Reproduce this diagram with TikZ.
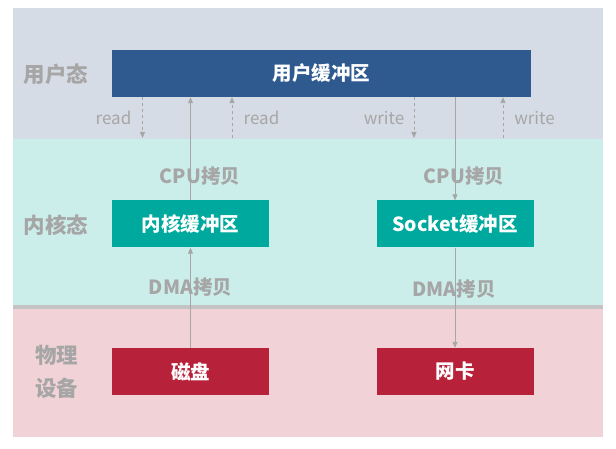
\documentclass[tikz,border=0pt]{standalone}
\usepackage{fontspec}
\setmainfont{Noto Sans CJK SC}
\usetikzlibrary{arrows.meta}
\definecolor{bandU}{HTML}{D6DCE5}
\definecolor{bandK}{HTML}{CCEEEB}
\definecolor{bandP}{HTML}{F1D3D7}
\definecolor{boxU}{HTML}{2F5A8F}
\definecolor{boxK}{HTML}{00A99D}
\definecolor{boxP}{HTML}{B7213A}
\definecolor{txtG}{HTML}{A6A6A6}
\definecolor{sepG}{HTML}{C3C3C3}
\tikzset{
  buf/.style={draw=none,minimum height=47pt,inner sep=0pt,text=white,font=\bfseries\fontsize{19.5}{23}\selectfont},
  grp/.style={text=txtG,font=\bfseries\fontsize{21.5}{33}\selectfont,inner sep=0pt,align=center},
  cpy/.style={text=txtG,font=\bfseries\fontsize{19.5}{23}\selectfont,inner sep=0pt},
  rw/.style={text=txtG,font=\fontsize{17}{20}\selectfont,inner sep=0pt},
  conn/.style={draw=txtG,line width=0.9pt,-{Triangle[length=6pt,width=5pt]}},
  dconn/.style={conn,dash pattern=on 3pt off 3pt}
}
\begin{document}
\begin{tikzpicture}[x=1pt,y=-1pt]
\useasboundingbox (0,0) rectangle (616,449);
\fill[white] (0,0) rectangle (616,449);
% bands
\fill[bandU] (13,8) rectangle (603,139);
\fill[bandK] (13,139) rectangle (603,306);
\fill[bandP] (13,308) rectangle (603,437);
\fill[sepG] (13,305) rectangle (603,308.5);
% group labels
\node[grp] (gu) at (56,74) {用户态};
\node[grp] (gk) at (56,225) {内核态};
\node[grp] (gp) at (56.5,371.5) {物理\\设备};
% boxes
\node[buf,fill=boxU,minimum width=419pt] (ub) at (321.5,73.5) {用户缓冲区};
\node[buf,fill=boxK,minimum width=157pt] (kb) at (190.5,224) {内核缓冲区};
\node[buf,fill=boxK,minimum width=157pt] (sb) at (455,224) {Socket缓冲区};
\node[buf,fill=boxP,minimum width=157pt] (dk) at (190.5,371.5) {磁盘};
\node[buf,fill=boxP,minimum width=157pt] (nc) at (455,371.5) {网卡};
% free ends
\coordinate (r1) at (142.5,138);
\coordinate (r2) at (232,138);
\coordinate (w1) at (414,138);
\coordinate (w2) at (503,138);
% connectors
\draw[dconn] (ub.south -| r1) -- (r1);
\draw[dconn] (r2) -- (ub.south -| r2);
\draw[dconn] (ub.south -| w1) -- (w1);
\draw[dconn] (w2) -- (ub.south -| w2);
\draw[conn] (kb.north) -- (ub.south -| kb.north);
\draw[conn] (ub.south -| sb.north) -- (sb.north);
\draw[conn] (dk.north) -- (kb.south);
\draw[conn] (sb.south) -- (nc.north);
% labels
\node[rw] (lr1) at (113.5,118) {read};
\node[rw] (lr2) at (261.5,118) {read};
\node[rw] (lw1) at (384,118) {write};
\node[rw] (lw2) at (534.5,118) {write};
\node[cpy] (c1) at (200,176) {CPU拷贝};
\node[cpy] (c2) at (464,176) {CPU拷贝};
\node[cpy] (d1) at (190.5,287) {DMA拷贝};
\node[cpy] (d2) at (454,289) {DMA拷贝};
\end{tikzpicture}
\end{document}
